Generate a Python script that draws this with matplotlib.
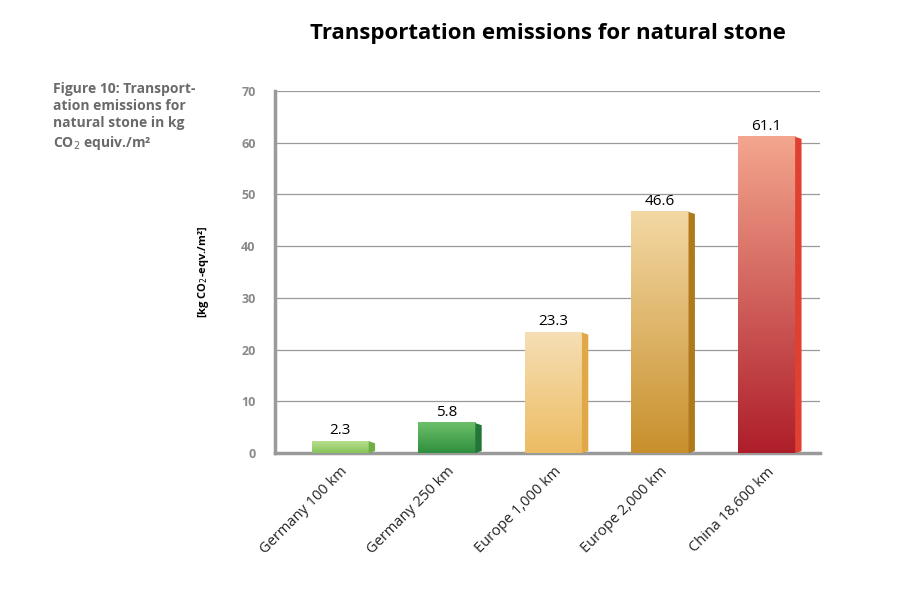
import numpy as np
import matplotlib.pyplot as plt
from matplotlib.colors import LinearSegmentedColormap
from matplotlib.patches import Polygon

categories = ['Germany 100 km', 'Germany 250 km', 'Europe 1,000 km', 'Europe 2,000 km', 'China 18,600 km']
values = [2.3, 5.8, 23.3, 46.6, 61.1]
labels = ['2.3', '5.8', '23.3', '46.6', '61.1']
# top colour, bottom colour, side colour
top_colors = ['#b9df8e', '#6cc06a', '#f6dfb5', '#f3d8a4', '#f4a68e']
bottom_colors = ['#86c45a', '#2f8f3e', '#ecbc62', '#c8902c', '#ae1e2a']
side_colors = ['#6fae44', '#23753a', '#e0a846', '#b07a1c', '#e04030']

fig = plt.figure(figsize=(9.08, 6.05), dpi=100)
ax = fig.add_axes([0.303, 0.251, 0.600, 0.599])

w = 0.535
d = 0.06
for i, v in enumerate(values):
    cmap = LinearSegmentedColormap.from_list('g', [bottom_colors[i], top_colors[i]])
    grad = np.linspace(0, 1, 256).reshape(-1, 1)
    ax.imshow(grad, cmap=cmap, origin='lower', aspect='auto',
              extent=[i - w / 2, i + w / 2, 0, v], zorder=3)
    side = Polygon([[i + w / 2, 0], [i + w / 2 + d, 0.4], [i + w / 2 + d, v - 0.4],
                    [i + w / 2, v]], closed=True, facecolor=side_colors[i],
                   edgecolor='none', zorder=3)
    ax.add_patch(side)
    ax.text(i, v + 0.6, labels[i], ha='center', va='bottom', fontsize=11,
            family='Open Sans', zorder=4)

ax.set_xlim(-0.61, 4.5)
ax.set_ylim(0, 70)
ax.set_yticks(range(0, 71, 10))
ax.set_yticklabels([str(t) for t in range(0, 71, 10)], fontsize=9,
                   fontweight='bold', color='#8a8a8a', family='Open Sans')
ax.yaxis.grid(True, color='#9a9a9a', linewidth=0.9, zorder=0)
ax.tick_params(axis='y', length=0, pad=14)
ax.set_xticks(range(len(categories)))
ax.set_xticklabels(categories, rotation=45, ha='right', rotation_mode='anchor',
                   fontsize=10.5, family='Open Sans', color='#222222')
ax.tick_params(axis='x', length=0, pad=8)
for s in ['top', 'right']:
    ax.spines[s].set_visible(False)
ax.spines['left'].set_color('#9a9a9a')
ax.spines['left'].set_linewidth(2.5)
ax.spines['bottom'].set_color('#9a9a9a')
ax.spines['bottom'].set_linewidth(2.5)

ax.set_ylabel('[kg CO$_2$-eqv./m²]', fontsize=8, fontweight='bold',
              family='Open Sans', labelpad=22)

fig.text(0.603, 0.945, 'Transportation emissions for natural stone', ha='center',
         va='center', fontsize=16, fontweight='bold', family='Open Sans')
fig.text(0.058, 0.865, 'Figure 10: Transport-\nation emissions for\nnatural stone in kg\nCO$_2$ equiv./m²',
         ha='left', va='top', fontsize=10, fontweight='bold', color='#6a6a6a',
         family='Open Sans', linespacing=1.3)

fig.savefig('out.png', dpi=100)
